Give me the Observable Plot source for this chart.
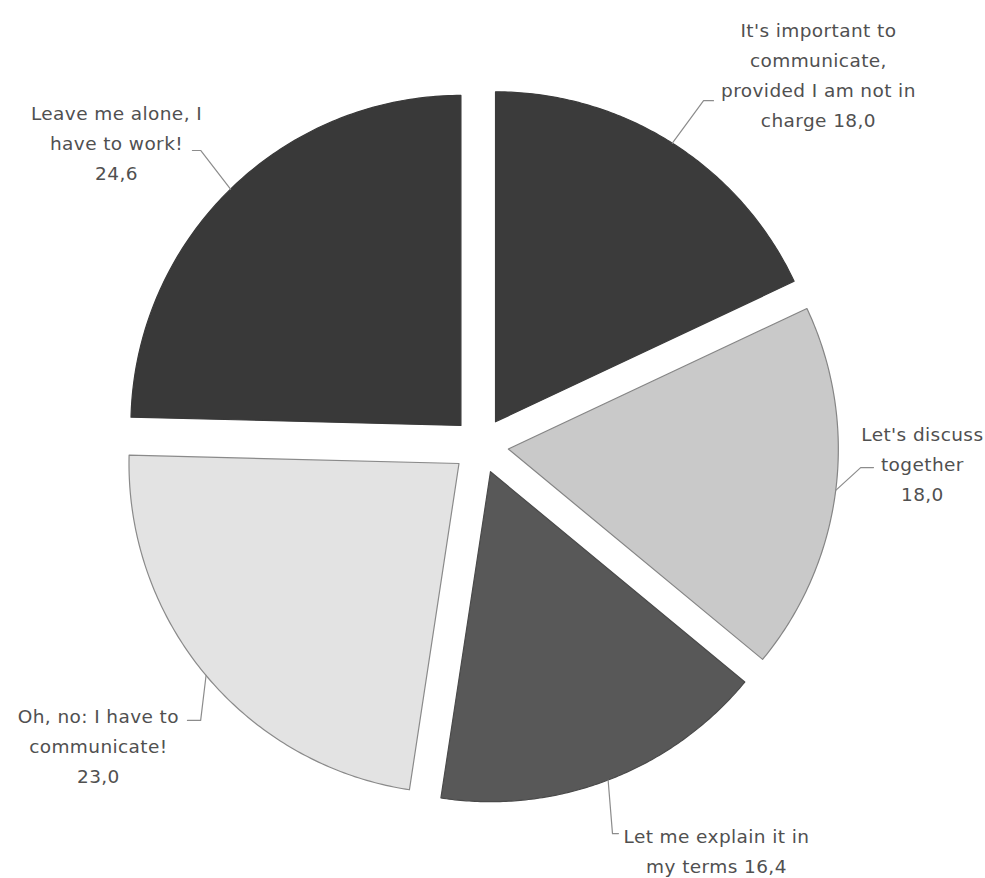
<!DOCTYPE html>
<html>
<head>
<meta charset="utf-8">
<script src="https://cdn.jsdelivr.net/npm/d3@7"></script>
<script src="https://cdn.jsdelivr.net/npm/@observablehq/plot@0.6"></script>
<style>
  html, body { margin: 0; padding: 0; background: #ffffff; }
  #chart { width: 985px; height: 878px; }
  #chart svg text { letter-spacing: 0.4px; }
</style>
</head>
<body>
<div id="chart"></div>
<script>
// ---- data ----
const categories = [
  "It's important to communicate, provided I am not in charge",
  "Let's discuss together",
  "Let me explain it in my terms",
  "Oh, no: I have to communicate!",
  "Leave me alone, I have to work!"
];
const values = [18.0, 18.0, 16.4, 23.0, 24.6];
const valueLabels = ["18,0", "18,0", "16,4", "23,0", "24,6"];
const labelLines = [
  ["It's important to", "communicate,", "provided I am not in", "charge 18,0"],
  ["Let's discuss", "together", "18,0"],
  ["Let me explain it in", "my terms 16,4"],
  ["Oh, no: I have to", "communicate!", "23,0"],
  ["Leave me alone, I", "have to work!", "24,6"]
];

// ---- styles / layout (not data) ----
const fills   = ["#3b3b3b", "#c9c9c9", "#585858", "#e3e3e3", "#393939"];
const strokes = ["#3b3b3b", "#858585", "#4a4a4a", "#8a8a8a", "#393939"];
const explode = 0.085;           // offset of each slice, in pie radii
// label layout in pie-radius units: elbow point, end of leader, text block centre
const labelLayout = [
  {elbow: [0.676, 1.045],  end: [0.706, 1.045],  text: [1.024, 1.130]},
  {elbow: [1.152, -0.067], end: [1.191, -0.067], text: [1.339, -0.048]},
  {elbow: [0.400, -1.176], end: [0.418, -1.176], text: [0.715, -1.221]},
  {elbow: [-0.848, -0.833], end: [-0.888, -0.833], text: [-1.158, -0.903]},
  {elbow: [-0.848, 0.894], end: [-0.873, 0.894], text: [-1.103, 0.924]}
];

// ---- geometry derived from the values ----
const arcs = d3.pie().sort(null).value(d => d)(values);
const slices = arcs.map((a, i) => {
  const mid = (a.startAngle + a.endAngle) / 2;
  const ox = explode * Math.sin(mid), oy = explode * Math.cos(mid);
  const pts = [{x: ox, y: oy}];
  const n = 120;
  for (let k = 0; k <= n; k++) {
    const t = a.startAngle + (a.endAngle - a.startAngle) * k / n;
    pts.push({x: ox + Math.sin(t), y: oy + Math.cos(t)});
  }
  pts.push({x: ox, y: oy});
  const touch = {x: ox + Math.sin(mid), y: oy + Math.cos(mid)};
  return {i, pts, touch, mid};
});

const W = 985, H = 878, R = 330, CX = 480, CY = 445;

const marks = [];
slices.forEach(s => {
  marks.push(Plot.line(s.pts, {
    x: "x", y: "y", fill: fills[s.i], stroke: strokes[s.i],
    strokeWidth: 1.2, curve: "linear-closed"
  }));
});
slices.forEach(s => {
  const L = labelLayout[s.i];
  const leader = [s.touch, {x: L.elbow[0], y: L.elbow[1]}, {x: L.end[0], y: L.end[1]}];
  marks.push(Plot.line(leader, {x: "x", y: "y", stroke: "#8c8c8c", strokeWidth: 1.2}));
});
const textData = categories.map((c, i) => ({
  label: labelLines[i].join("\n"),
  x: labelLayout[i].text[0],
  y: labelLayout[i].text[1]
}));
marks.push(Plot.text(textData, {
  x: "x", y: "y", text: "label",
  fill: "#505050", fontSize: 18.5, lineHeight: 30 / 18.5,
  textAnchor: "middle", lineAnchor: "middle",
  fontFamily: "'DejaVu Sans', sans-serif"
}));

const chart = Plot.plot({
  width: W, height: H,
  margin: 0,
  x: {type: "linear", domain: [-CX / R, (W - CX) / R], range: [0, W], axis: null},
  y: {type: "linear", domain: [-(H - CY) / R, CY / R], range: [H, 0], axis: null},
  style: {background: "#ffffff", fontFamily: "'DejaVu Sans', sans-serif"},
  marks
});
document.getElementById("chart").appendChild(chart);
</script>
</body>
</html>
